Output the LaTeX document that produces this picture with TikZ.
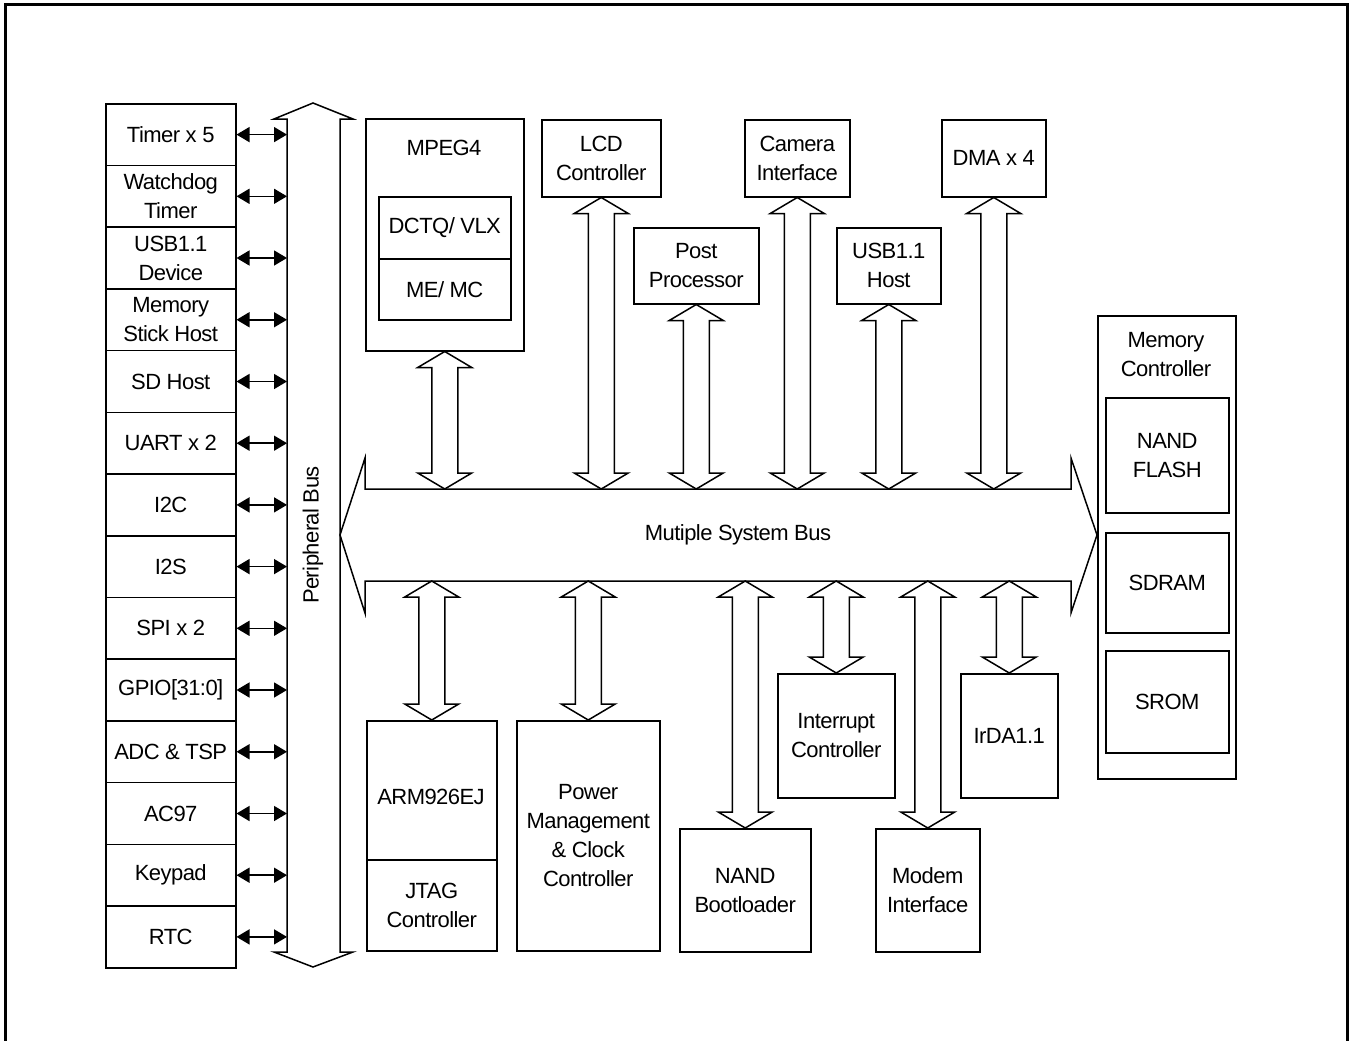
\documentclass[tikz,border=0pt]{standalone}
\usepackage{fontspec}
\setmainfont{Liberation Sans}[LetterSpace=-2.5]
\usetikzlibrary{arrows.meta,calc}
\tikzset{
  lbl/.style={font=\fontsize{22}{29}\selectfont, align=center, inner sep=0pt},
  blk/.style={lbl, draw, line width=1.5pt, anchor=north west},
  hollow/.style={draw, line width=1.5pt, fill=white, line join=miter},
  smallarr/.style={line width=1.5pt, {Triangle[length=13pt,width=15pt]}-{Triangle[length=13pt,width=15pt]}},
  frame/.style={line width=3pt}
}
\newcommand\bx[6]{\node[blk, minimum width={(#4)-(#2)}, minimum height={(#5)-(#3)}] (#1) at (#2,#3) {#6};}
\newcommand\vdarrow[2]{\draw[hollow] (#1) -- ++(27,16) -- ++(-14,0) -- ($(#2)+(13,-16)$) -- ++(14,0) -- (#2) -- ++(-27,-16) -- ++(14,0) -- ($(#1)+(-13,16)$) -- ++(-14,0) -- cycle;}
\begin{document}
\begin{tikzpicture}[x=1pt, y=-1pt]
\useasboundingbox (0,0) rectangle (1350,1041);
\draw[frame] (5,1041) -- (5,5) -- (1347,5) -- (1347,1041);

% reference coordinates
\coordinate (pbl) at (287,0);
\coordinate (bt) at (0,489);
\coordinate (bb) at (0,581);

% peripheral bus
\draw[hollow] (313,103) -- (353,119) -- (340,119) -- (340,952) -- (353,952) -- (313,967)
  -- (274,952) -- (287,952) -- (287,119) -- (274,119) -- cycle;
\node[lbl, rotate=90] (pblabel) at (313,535) {Peripheral Bus};

% left column
\bx{timer}{105}{103}{235}{164.7}{Timer x 5}
\bx{wdt}{105}{164.7}{235}{226.4}{Watchdog\\Timer}
\bx{usbd}{105}{226.4}{235}{288.1}{USB1.1\\Device}
\bx{ms}{105}{288.1}{235}{349.9}{Memory\\Stick Host}
\bx{sd}{105}{349.9}{235}{411.6}{SD Host}
\bx{uart}{105}{411.6}{235}{473.3}{UART x 2}
\bx{iic}{105}{473.3}{235}{535}{I2C}
\bx{iis}{105}{535}{235}{596.7}{I2S}
\bx{spi}{105}{596.7}{235}{658.4}{SPI x 2}
\bx{gpio}{105}{658.4}{235}{720.1}{GPIO[31:0]}
\bx{adc}{105}{720.1}{235}{781.9}{ADC \& TSP}
\bx{ac97}{105}{781.9}{235}{843.6}{AC97}
\bx{key}{105}{843.6}{235}{905.3}{Keypad}
\bx{rtc}{105}{905.3}{235}{967}{RTC}
\foreach \n in {timer,wdt,usbd,ms,sd,uart,iic,iis,spi,gpio,adc,ac97,key,rtc}
  \draw[smallarr] (\n.east) -- (\n.east -| pbl);

% system bus
\draw[hollow] (340,535) -- (365,458) -- (365,489) -- (1071,489) -- (1071,458) -- (1097,535)
  -- (1071,613) -- (1071,581) -- (365,581) -- (365,613) -- cycle;
\node[lbl] (sblabel) at (738,535) {Mutiple System Bus};

% top blocks
\bx{mpeg}{365}{118}{523}{350}{}
\node[lbl] (mpeglabel) at (444,148) {MPEG4};
\bx{dct}{378}{196}{510}{258}{DCTQ/ VLX}
\bx{me}{378}{258}{510}{319}{ME/ MC}
\bx{lcd}{541}{119}{660}{196}{LCD\\Controller}
\bx{cam}{744}{119}{849}{196}{Camera\\Interface}
\bx{dma}{941}{119}{1045}{196}{DMA x 4}
\bx{post}{633}{227}{758}{303}{Post\\Processor}
\bx{usbh}{836}{227}{940}{303}{USB1.1\\Host}

% bottom blocks
\bx{arm}{366}{720}{496}{859}{}
\node[lbl] (armlabel) at (431,797) {ARM926EJ};
\bx{jtag}{366}{859}{496}{950}{JTAG\\Controller}
\bx{pwr}{516}{720}{659}{950}{Power\\Management\\\& Clock\\Controller}
\bx{nand}{679}{828}{810}{951}{NAND\\Bootloader}
\bx{intc}{777}{673}{894}{797}{Interrupt\\Controller}
\bx{modem}{875}{828}{979}{951}{Modem\\Interface}
\bx{irda}{960}{673}{1057}{797}{IrDA1.1}

% memory controller
\bx{mc}{1097}{315}{1235}{778}{}
\node[lbl] (mclabel) at (1166,355) {Memory\\Controller};
\bx{nf}{1105}{397}{1228}{512}{NAND\\FLASH}
\bx{sdram}{1105}{532}{1228}{632}{SDRAM}
\bx{srom}{1105}{650}{1228}{752}{SROM}

% arrows to the bus
\foreach \n in {mpeg,lcd,cam,dma,post,usbh}{
  \coordinate (\n B) at (\n.south |- bt);
  \vdarrow{\n.south}{\n B}
}
\foreach \n in {arm,pwr,nand,intc,modem,irda}{
  \coordinate (\n T) at (\n.north |- bb);
  \vdarrow{\n T}{\n.north}
}
\end{tikzpicture}
\end{document}
